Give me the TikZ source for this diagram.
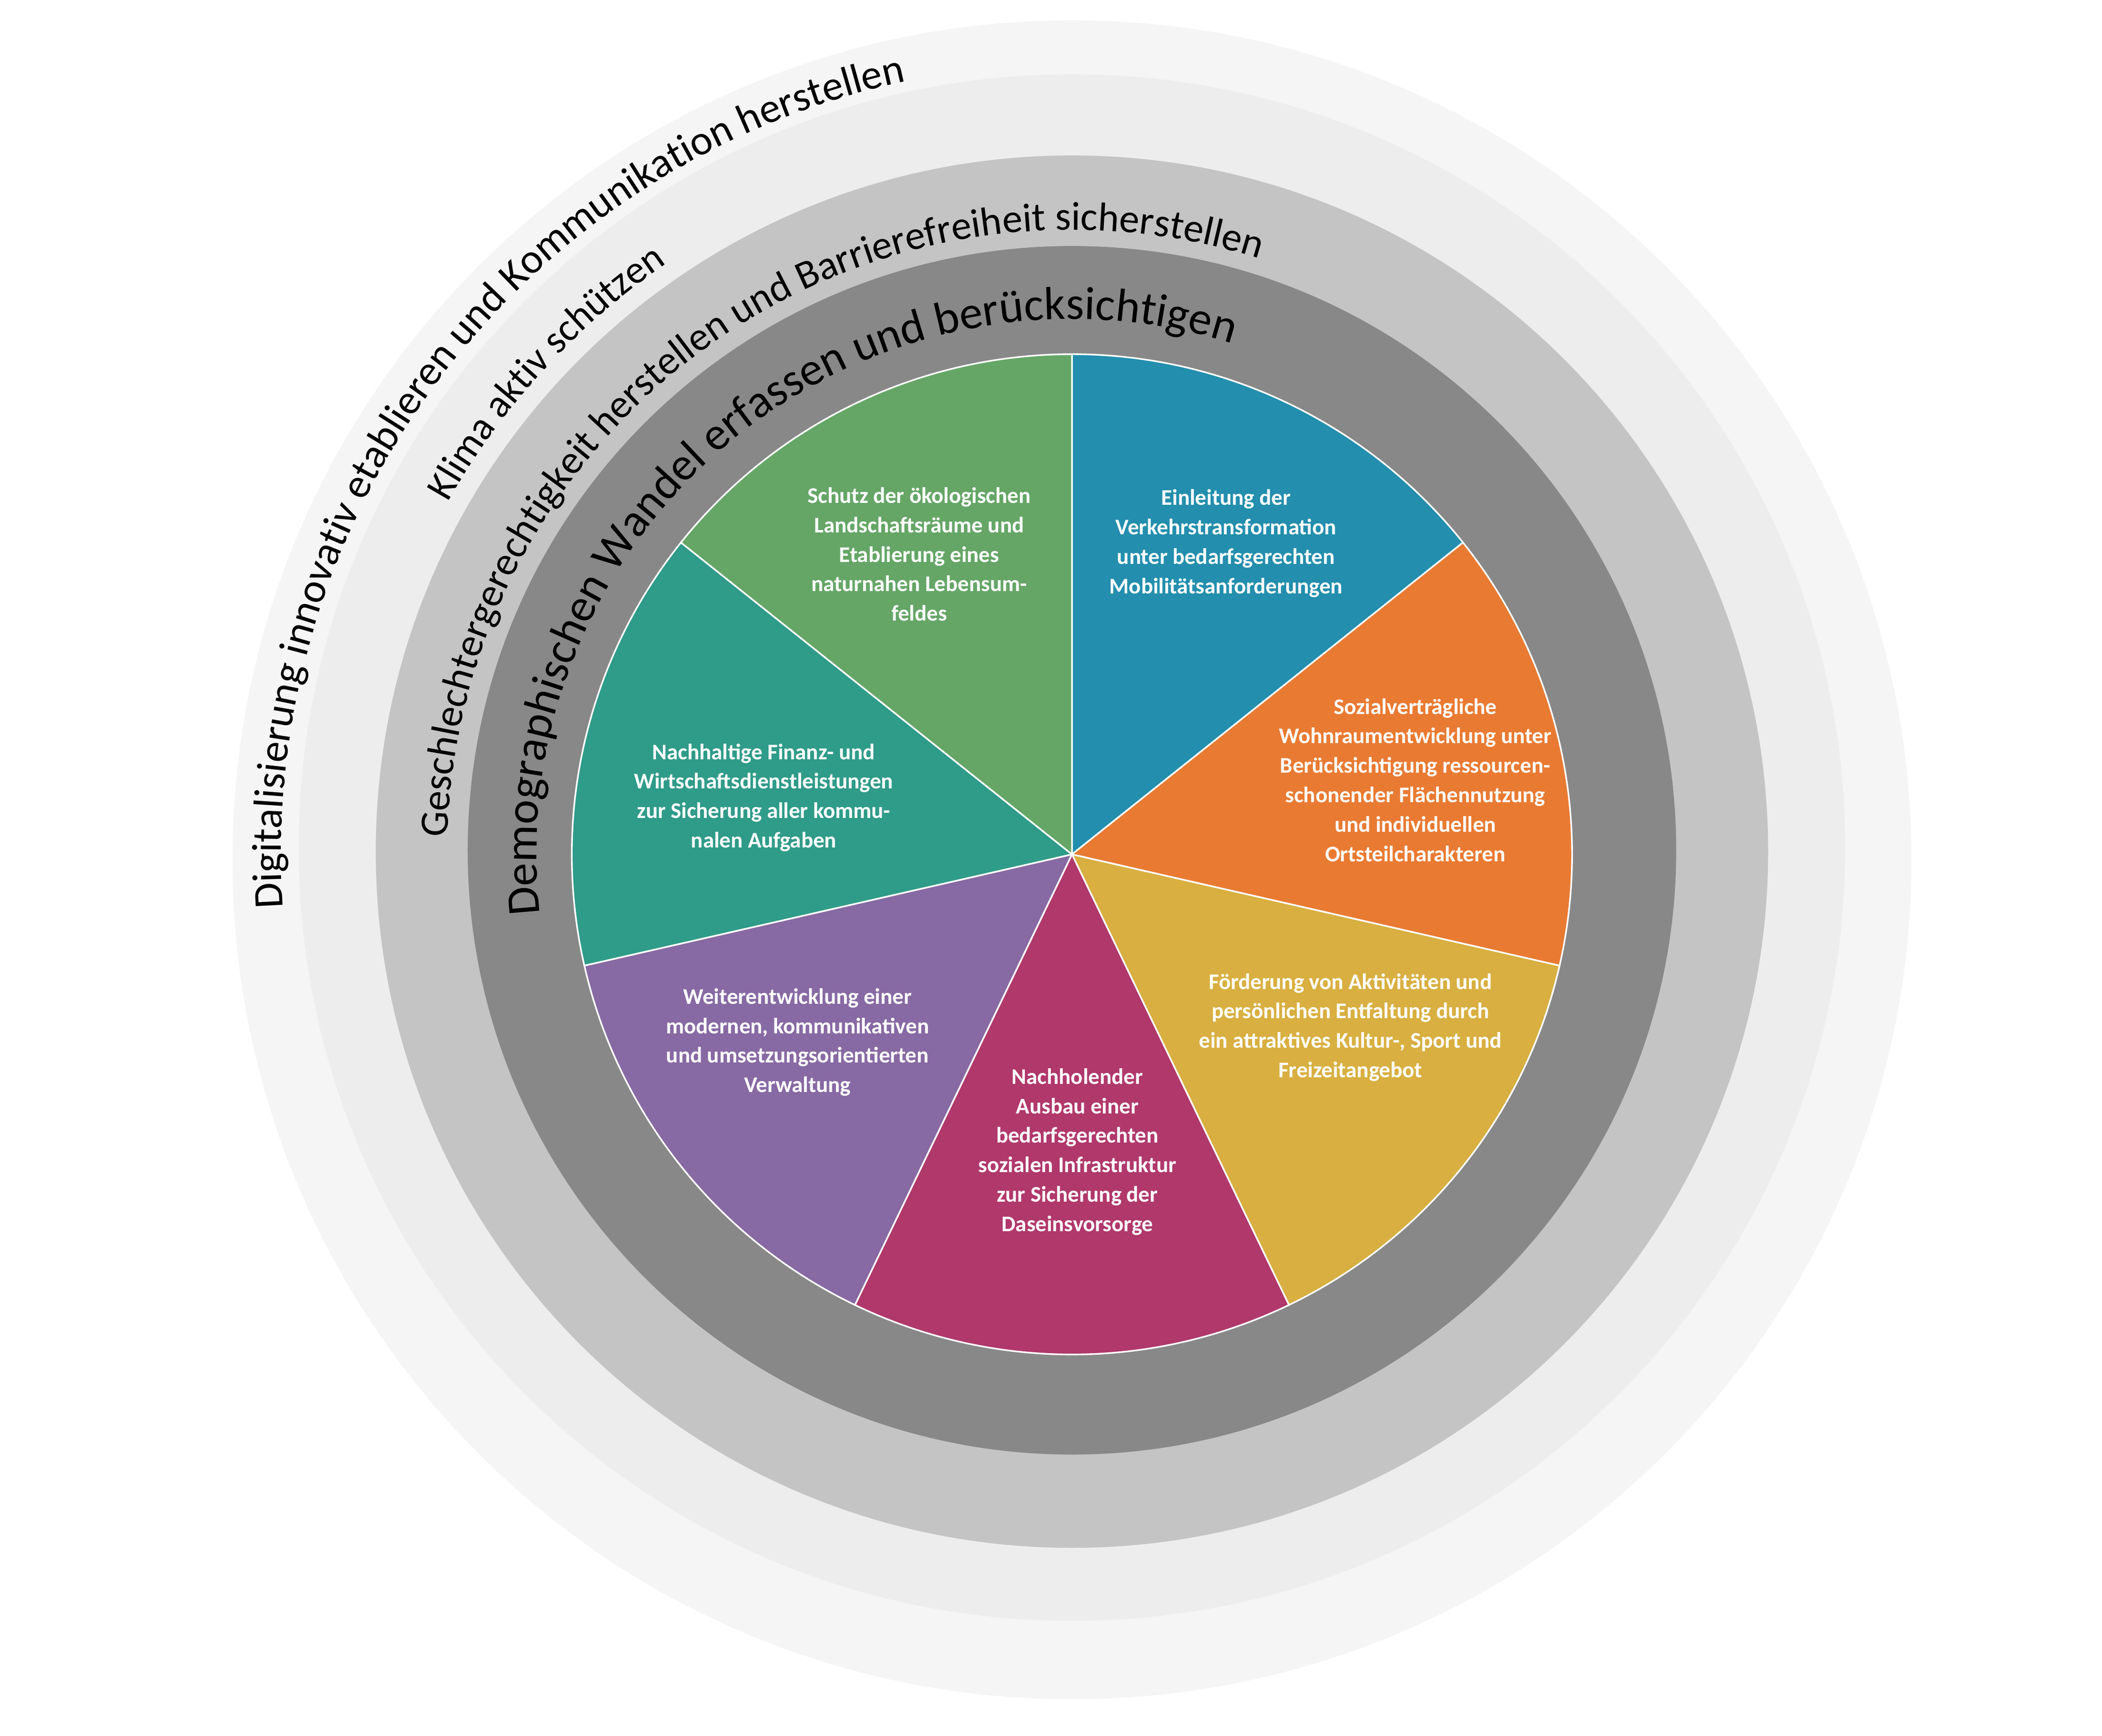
\documentclass[tikz,border=0pt]{standalone}
\usepackage{fontspec}
\setmainfont{Carlito}
\usetikzlibrary{decorations.text}
\definecolor{cblue}{HTML}{238EAD}
\definecolor{corange}{HTML}{E97A32}
\definecolor{cyellow}{HTML}{D8AF40}
\definecolor{cred}{HTML}{B0386B}
\definecolor{cpurple}{HTML}{8769A3}
\definecolor{cteal}{HTML}{2F9B89}
\definecolor{cgreen}{HTML}{65A667}
\definecolor{r1}{HTML}{F5F5F5}
\definecolor{r2}{HTML}{EDEDED}
\definecolor{r3}{HTML}{C4C4C4}
\definecolor{r4}{HTML}{888888}
\begin{document}
\begin{tikzpicture}[x=1mm,y=1mm,
  slice/.style={draw=white,line width=1.2mm},
  stxt/.style={text=white,align=center,font=\fontsize{47}{62}\selectfont\bfseries},
  ring/.style 2 args={postaction={decorate,decoration={text along path,text align=center,text={|\fontsize{#1}{#1}\selectfont|#2}}}}]
\useasboundingbox (-793,-652) rectangle (762,632);
\fill[r1] (0,-4) circle (621);
\fill[r2] (0,5) circle (572);
\fill[r3] (0,2) circle (515);
\fill[r4] (0,3) circle (447);
\foreach \a/\c in {90/cblue,38.571/corange,-12.857/cyellow,-64.286/cred,-115.714/cpurple,-167.143/cteal,141.429/cgreen}{
  \fill[\c,slice] (0,0) -- (\a:370) arc[start angle=\a,end angle=\a-51.43,radius=370] -- cycle;
}
\path[ring={98}{Demographischen Wandel erfassen und berücksichtigen}] (202:396) arc[start angle=202,end angle=57,radius=396];
\path[ring={85}{Geschlechtergerechtigkeit herstellen und Barrierefreiheit sicherstellen}] (195:462) arc[start angle=195,end angle=56,radius=462];
\path[ring={83}{Klima aktiv schützen}] (170:530) arc[start angle=170,end angle=105,radius=530];
\path[ring={88}{Digitalisierung innovativ  etablieren und Kommunikation herstellen}] (200:585) arc[start angle=200,end angle=86,radius=585];
\node[stxt] (t1) at (114,230) {Einleitung der\\Verkehrstransformation\\unter bedarfsgerechten\\Mobilitätsanforderungen};
\node[stxt] (t2) at (254,55) {Sozialverträgliche\\Wohnraumentwicklung unter\\Berücksichtigung ressourcen-\\schonender Flächennutzung\\und individuellen\\Ortsteilcharakteren};
\node[stxt] (t3) at (206,-128) {Förderung von Aktivitäten und\\persönlichen Entfaltung durch\\ein attraktives Kultur-, Sport und\\Freizeitangebot};
\node[stxt] (t4) at (4,-220) {Nachholender\\Ausbau einer\\bedarfsgerechten\\sozialen Infrastruktur\\zur Sicherung der\\Daseinsvorsorge};
\node[stxt] (t5) at (-203,-139) {Weiterentwicklung einer\\modernen, kommunikativen\\und umsetzungsorientierten\\Verwaltung};
\node[stxt] (t6) at (-228,42) {Nachhaltige Finanz- und\\Wirtschaftsdienstleistungen\\zur Sicherung aller kommu-\\nalen Aufgaben};
\node[stxt] (t7) at (-113,222) {Schutz der ökologischen\\Landschaftsräume und\\Etablierung eines\\naturnahen Lebensum-\\feldes};
\end{tikzpicture}
\end{document}
